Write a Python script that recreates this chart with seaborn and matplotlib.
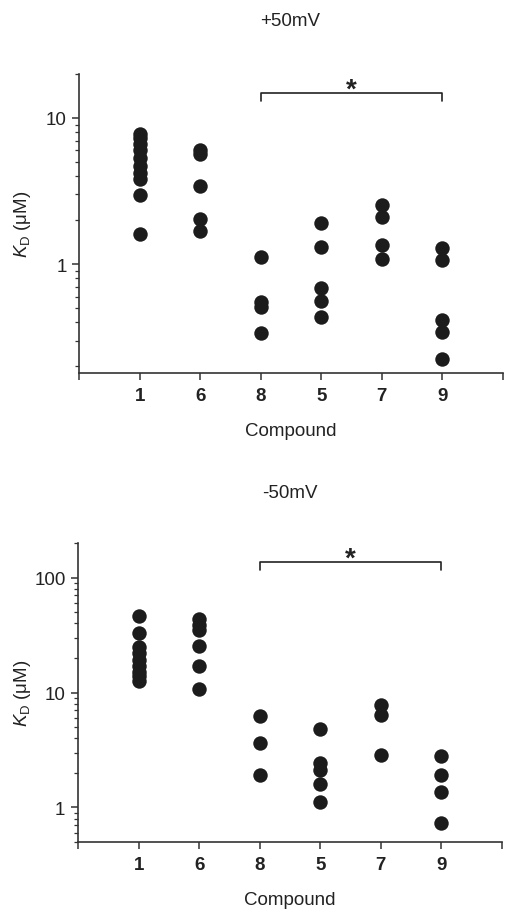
import numpy as np
import pandas as pd
import matplotlib
matplotlib.use("Agg")
import matplotlib.pyplot as plt
import seaborn as sns
from matplotlib.ticker import LogLocator, NullFormatter, FixedLocator, FixedFormatter

# ---- data ----
compounds = ["1", "6", "8", "5", "7", "9"]

pos50 = {
    "1": [7.8, 7.3, 6.6, 6.0, 5.3, 4.7, 4.2, 3.8, 2.95, 1.62],
    "6": [6.08, 5.65, 3.44, 2.05, 1.69],
    "8": [1.12, 0.554, 0.512, 0.337],
    "5": [1.90, 1.31, 0.69, 0.56, 0.438],
    "7": [2.52, 2.09, 1.36, 1.09],
    "9": [1.29, 1.06, 0.415, 0.346, 0.225],
}
neg50 = {
    "1": [46.5, 33.0, 25.0, 22.0, 19.0, 17.0, 15.0, 13.8, 12.6],
    "6": [44.0, 39.0, 35.0, 25.5, 17.0, 10.8],
    "8": [6.25, 3.64, 1.93],
    "5": [4.85, 2.44, 2.10, 1.59, 1.11],
    "7": [7.74, 6.33, 2.84],
    "9": [2.80, 1.93, 1.36, 0.735],
}
titles = ["+50mV", "-50mV"]
ylims = [(0.18, 20), (0.5, 200)]
yticks = [[1, 10], [1, 10, 100]]
brackets = [(14.8, 13.1), (137, 116)]

sns.set_theme(style="ticks")
plt.rcParams["font.family"] = ["Liberation Sans", "DejaVu Sans"]
plt.rcParams["mathtext.fontset"] = "custom"
plt.rcParams["mathtext.rm"] = "Liberation Sans"
plt.rcParams["mathtext.it"] = "Liberation Sans:italic"

fig = plt.figure(figsize=(5.05, 9.12), dpi=100)
axpos = [
    [79 / 505, 1 - 374 / 912, (503 - 79) / 505, (374 - 75) / 912],
    [78 / 505, 1 - 843 / 912, (502 - 78) / 505, (843 - 544) / 912],
]
title_y = [22, 493]
ylab_x = [-0.108, -0.106]
dark = "#1c1c1c"
txt = "#222222"
fs = 13.5
for i, dset in enumerate([pos50, neg50]):
    ax = fig.add_axes(axpos[i])
    rows = [(c, v) for c in compounds for v in dset[c]]
    df = pd.DataFrame(rows, columns=["Compound", "KD"])
    ax.set_yscale("log")
    sns.stripplot(data=df, x="Compound", y="KD", order=compounds, jitter=False,
                  color=dark, size=10.4, linewidth=0, ax=ax, native_scale=False)
    ax.set_yscale("log")
    ax.set_ylim(*ylims[i])
    ax.set_xlim(-1, 6)
    ax.yaxis.set_major_locator(FixedLocator(yticks[i]))
    ax.yaxis.set_major_formatter(FixedFormatter([str(t) for t in yticks[i]]))
    ax.yaxis.set_minor_locator(LogLocator(base=10, subs=np.arange(2, 10)))
    ax.yaxis.set_minor_formatter(NullFormatter())
    ax.set_xticks(list(range(-1, 7)))
    ax.set_xticklabels([""] + compounds + [""], fontweight="bold", fontsize=fs)
    for s in ["top", "right"]:
        ax.spines[s].set_visible(False)
    for s in ["left", "bottom"]:
        ax.spines[s].set_linewidth(1.2)
        ax.spines[s].set_color("#333333")
    ax.tick_params(axis="both", which="major", length=5, width=1.1, color="#333333",
                   labelsize=fs, labelcolor=txt)
    ax.tick_params(axis="y", which="minor", length=3, width=0.9, color="#333333")
    ax.tick_params(axis="x", pad=5)
    ax.tick_params(axis="y", pad=4)
    ax.set_xlabel("Compound", fontsize=fs, color=txt, labelpad=13)
    ax.set_ylabel(r"$\mathit{K}_\mathrm{D}$ (μM)", fontsize=fs, color=txt)
    ax.yaxis.set_label_coords(ylab_x[i], 0.5)
    fig.text(290 / 505, 1 - title_y[i] / 912, titles[i], ha="center", va="center",
             fontsize=fs, color=txt)
    top, leg = brackets[i]
    ax.plot([2, 2, 5, 5], [leg, top, top, leg], color=txt, lw=1.2)
    ax.annotate("*", xy=(3.5, top), xytext=(0, -2.7), textcoords="offset points",
                ha="center", va="baseline", fontsize=20, fontweight="bold", color=txt)

fig.savefig("out.png", dpi=100)
